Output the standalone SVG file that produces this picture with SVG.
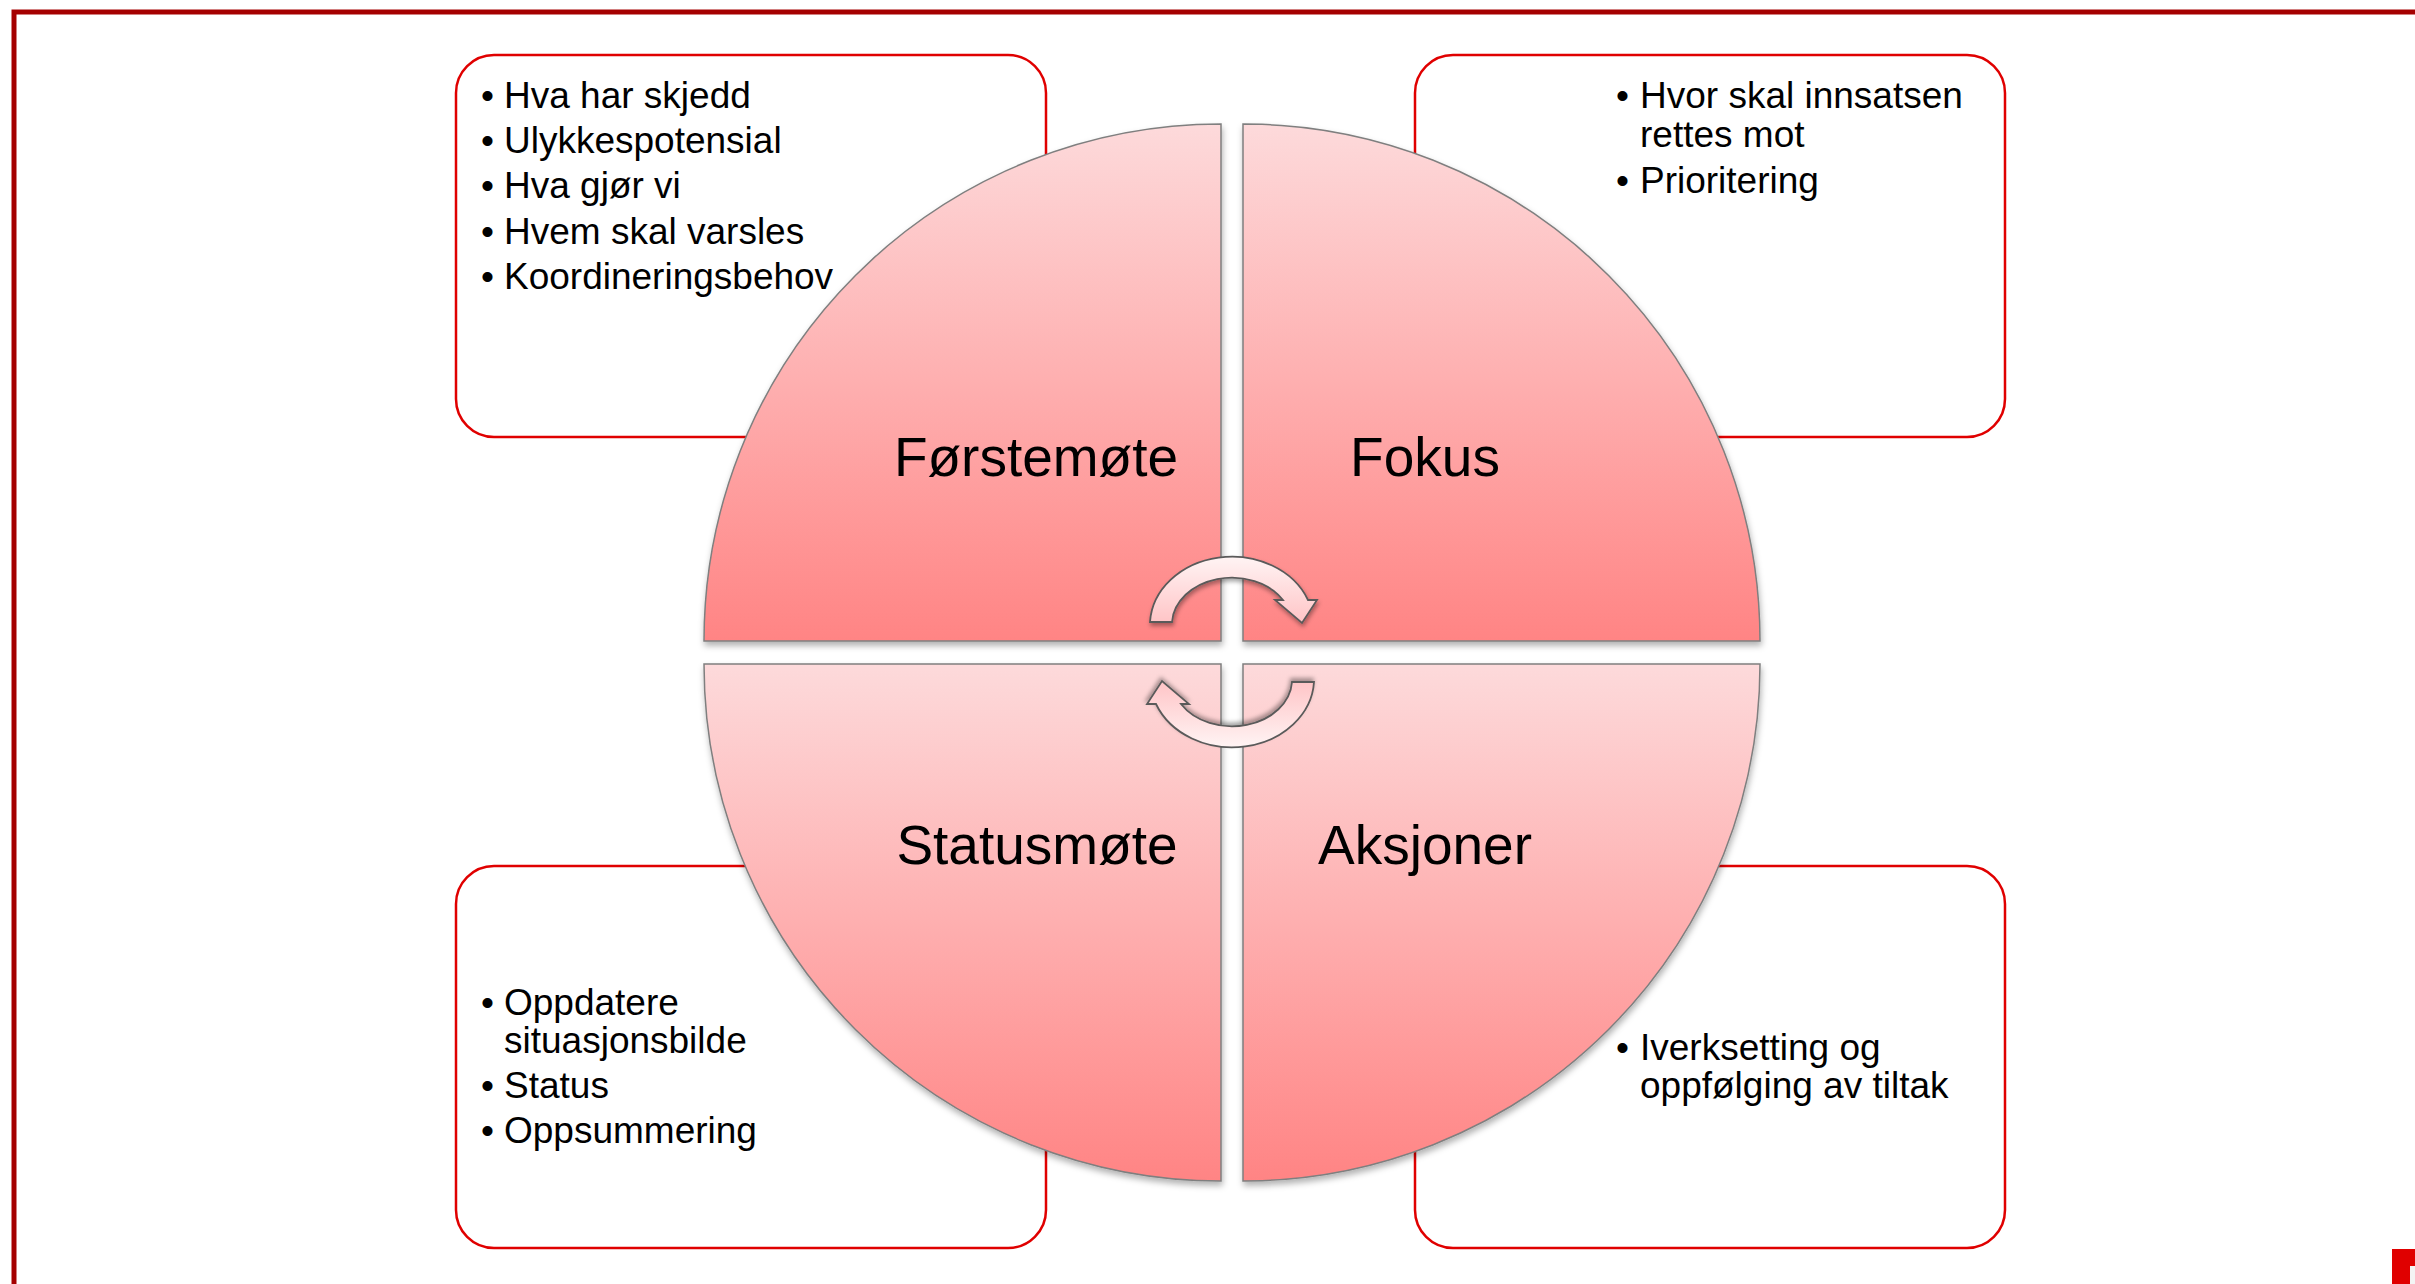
<svg xmlns="http://www.w3.org/2000/svg" width="2415" height="1284" viewBox="0 0 2415 1284">
<style>
.box{fill:#ffffff;stroke:#e00000;stroke-width:2.5}
.quad{fill:url(#qg);stroke:#7f7f7f;stroke-width:1.5;filter:url(#sh)}
.lbl{font-family:"Liberation Sans",Arial,sans-serif;font-size:55px;fill:#000;text-anchor:middle}
.bul{font-family:"Liberation Sans",Arial,sans-serif;font-size:37px;fill:#000}
.arr{fill:url(#ag);stroke:#5a5a5a;stroke-width:1.8;filter:url(#ash)}
</style>
<defs>
<linearGradient id="qg" x1="0" y1="0" x2="0" y2="1">
<stop offset="0" stop-color="#fddadb"/>
<stop offset="1" stop-color="#ff8484"/>
</linearGradient>
<linearGradient id="ag" x1="0" y1="0" x2="0" y2="1">
<stop offset="0" stop-color="#fff4f4"/>
<stop offset="1" stop-color="#ffc4c6"/>
</linearGradient>
<filter id="sh" x="-10%" y="-10%" width="120%" height="125%">
<feDropShadow dx="1" dy="4" stdDeviation="3" flood-color="#000" flood-opacity="0.3"/>
</filter>
<filter id="ash" x="-20%" y="-20%" width="140%" height="150%">
<feDropShadow dx="1" dy="3" stdDeviation="2" flood-color="#000" flood-opacity="0.35"/>
</filter>
</defs>
<rect width="2415" height="1284" fill="#ffffff"/>
<rect id="frame" x="14" y="12" width="2420" height="1300" fill="none" stroke="#a50000" stroke-width="5"/>
<rect x="2392" y="1249" width="23" height="35" fill="#e00000"/>
<rect x="2410" y="1266" width="5" height="18" fill="#f4f4f4"/>

<g id="box-tl">
<rect class="box" x="456" y="55" width="590" height="382" rx="38"/>
<text class="bul"><tspan x="481" y="108">•</tspan><tspan x="504" y="108">Hva har skjedd</tspan></text>
<text class="bul"><tspan x="481" y="153">•</tspan><tspan x="504" y="153">Ulykkespotensial</tspan></text>
<text class="bul"><tspan x="481" y="198">•</tspan><tspan x="504" y="198">Hva gjør vi</tspan></text>
<text class="bul"><tspan x="481" y="244">•</tspan><tspan x="504" y="244">Hvem skal varsles</tspan></text>
<text class="bul"><tspan x="481" y="289">•</tspan><tspan x="504" y="289">Koordineringsbehov</tspan></text>
</g>
<g id="box-tr">
<rect class="box" x="1415" y="55" width="590" height="382" rx="38"/>
<text class="bul"><tspan x="1616" y="108">•</tspan><tspan x="1640" y="108">Hvor skal innsatsen</tspan><tspan x="1640" y="147">rettes mot</tspan></text>
<text class="bul"><tspan x="1616" y="193">•</tspan><tspan x="1640" y="193">Prioritering</tspan></text>
</g>
<g id="box-bl">
<rect class="box" x="456" y="866" width="590" height="382" rx="38"/>
<text class="bul"><tspan x="481" y="1015">•</tspan><tspan x="504" y="1015">Oppdatere</tspan><tspan x="504" y="1053">situasjonsbilde</tspan></text>
<text class="bul"><tspan x="481" y="1098">•</tspan><tspan x="504" y="1098">Status</tspan></text>
<text class="bul"><tspan x="481" y="1143">•</tspan><tspan x="504" y="1143">Oppsummering</tspan></text>
</g>
<g id="box-br">
<rect class="box" x="1415" y="866" width="590" height="382" rx="38"/>
<text class="bul"><tspan x="1616" y="1060">•</tspan><tspan x="1640" y="1060">Iverksetting og</tspan><tspan x="1640" y="1098">oppfølging av tiltak</tspan></text>
</g>

<g id="q-forstemote">
<path class="quad" d="M1221,641 L704,641 A517,517 0 0 1 1221,124 Z"/>
<text class="lbl" x="1036" y="476">Førstemøte</text>
</g>
<g id="q-fokus">
<path class="quad" d="M1243,641 L1243,124 A517,517 0 0 1 1760,641 Z"/>
<text class="lbl" x="1425" y="476">Fokus</text>
</g>
<g id="q-statusmote">
<path class="quad" d="M1221,664 L1221,1181 A517,517 0 0 1 704,664 Z"/>
<text class="lbl" x="1037" y="864">Statusmøte</text>
</g>
<g id="q-aksjoner">
<path class="quad" d="M1243,664 L1760,664 A517,517 0 0 1 1243,1181 Z"/>
<text class="lbl" x="1425" y="864">Aksjoner</text>
</g>

<g id="connectors">
<path id="arrow-top" class="arr" d="M1150,622 A82,69 0 0 1 1308,600 L1317,600 L1302,623 L1275,600 L1283,600 A60,47 0 0 0 1172,622 Z"/>
<path id="arrow-bottom" class="arr" transform="rotate(180 1232 652)" d="M1150,622 A82,69 0 0 1 1308,600 L1317,600 L1302,623 L1275,600 L1283,600 A60,47 0 0 0 1172,622 Z"/>
</g>
</svg>
